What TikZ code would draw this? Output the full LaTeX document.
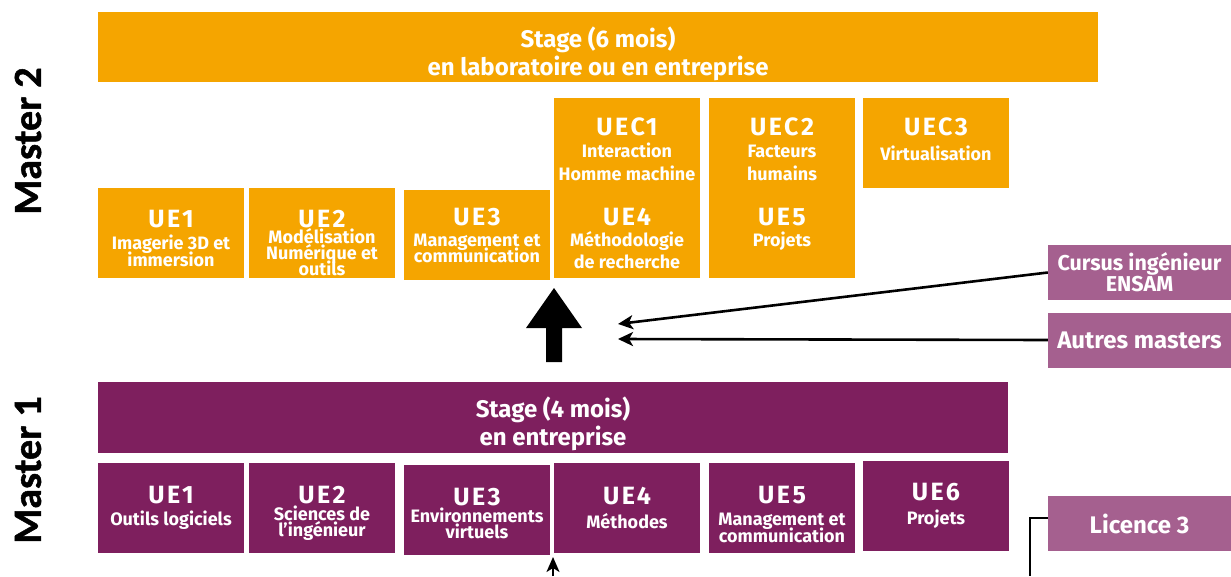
\documentclass[tikz,border=0pt]{standalone}
\usepackage{fontspec}
\setmainfont{Fira Sans}
\newfontfamily\mastfont{Carlito}[FakeBold=1.2]
\usepackage{xcolor}
\usetikzlibrary{positioning,arrows.meta}
\definecolor{orangeM}{HTML}{F5A500}
\definecolor{violetM}{HTML}{7E1F5E}
\definecolor{roseM}{HTML}{A5608F}
\newcommand\uetitle{\fontsize{25}{25}\selectfont\addfontfeatures{LetterSpace=10}}
\newcommand\uetext{\fontsize{18}{17}\selectfont}
\newcommand\stagefont{\fontsize{24}{28}\selectfont}
\newcommand\extfont{\fontsize{24}{21}\selectfont}
% titre d'UE, avec un appui pour descendre le bloc
\newcommand\ttl[2][0pt]{{\uetitle\rule{0pt}{#1}#2}}
\lineskiplimit=-30pt

\begin{document}
\begin{tikzpicture}[x=1pt,y=-1pt,
  box/.style={text=white,inner sep=0pt,align=center,font=\bfseries\uetext},
  ue/.style={box,minimum width=146pt,minimum height=90pt},
  m2/.style={fill=orangeM},
  m1/.style={fill=violetM},
  ext/.style={box,fill=roseM,minimum width=183pt,minimum height=55pt,font=\bfseries\extfont},
  master/.style={rotate=90,font={\mastfont\bfseries\fontsize{40}{40}\selectfont}},
  conn/.style={line width=2.6pt,-{Stealth[length=15pt,width=14pt,inset=4pt]}}]
\useasboundingbox (0,0) rectangle (1231,576);

% Master 2
\node[box,m2,minimum width=1000pt,minimum height=70pt,font=\bfseries\stagefont] (stageB) at (598,47) {\rule{0pt}{34pt}Stage (6 mois)\\en laboratoire ou en entreprise};
\node[ue,m2] (ueBa) at (171,233) {\ttl[27.5pt]{UE1}\\[5pt]Imagerie 3D et\\immersion};
\node[ue,m2] (ueBb) at (322,233) {\ttl[36.5pt]{UE2}\\[-1pt]Modélisation\\[-1pt]Numérique et\\[-1pt]outils};
\node[ue,m2] (ueBc) at (477,235) {\ttl{UE3}\\[4pt]Management et\\[-1pt]communication};
\node[ue,m2,minimum height=180pt] (uecA) at (627,188) {\ttl[28.5pt]{UEC1}\\[5pt]Interaction\\[6pt]Homme machine\\[28pt]\ttl{UE4}\\[4pt]Méthodologie\\[5pt]de recherche};
\node[ue,m2,minimum height=180pt] (uecB) at (782,188) {\ttl[28.5pt]{UEC2}\\[5pt]Facteurs\\[6pt]humains\\[28pt]\ttl{UE5}\\[4pt]Projets\\[5pt]\phantom{de recherche}};
\node[ue,m2] (uecC) at (936,143) {\ttl[26.5pt]{UEC3}\\[8pt]Virtualisation\\\phantom{x}};
\node[master] (mtwo) at (28,141) {Master 2};

% entrees en M2
\node[ext,font=\bfseries\fontsize{21.5}{21}\selectfont] (cursus) at (1139.5,272.5) {Cursus ingénieur\\ENSAM};
\node[ext] (autres) at (1139.5,340) {Autres masters};
\fill (526,328) -- (554,288) -- (582,328) -- (562,328) -- (562,362) -- (546,362) -- (546,328) -- cycle;
\coordinate (tipA) at (618,324);
\coordinate (tipB) at (618,339);
\draw[conn] (cursus.west) -- (tipA);
\draw[conn] (autres.west) -- (tipB);

% Master 1
\node[box,m1,minimum width=910pt,minimum height=71pt,font=\bfseries\stagefont] (stageA) at (553,417.5) {\rule{0pt}{34pt}Stage (4 mois)\\en entreprise};
\node[ue,m1] (ueAa) at (171,507.5) {\ttl{UE1}\\[5pt]Outils logiciels};
\node[ue,m1] (ueAb) at (322,507.5) {\ttl[28.5pt]{UE2}\\[0pt]Sciences de\\[-1pt]l'ingénieur};
\node[ue,m1] (ueAc) at (477,509.5) {\ttl[24.5pt]{UE3}\\[0pt]Environnements\\[-1pt]virtuels};
\node[ue,m1] (ueAd) at (627,507.5) {\ttl{UE4}\\[7pt]Méthodes};
\node[ue,m1] (ueAe) at (782,507.5) {\ttl[31.5pt]{UE5}\\[5pt]Management et\\[0pt]communication};
\node[ue,m1] (ueAf) at (936,505.5) {\ttl{UE6}\\[7pt]Projets};
\node[master] (mone) at (28,470) {Master 1};

% entree en M1
\node[ext] (licence) at (1139.5,523.5) {Licence 3};
\coordinate (bend) at (1030,576);
\coordinate (foot) at (553,576);
\coordinate (entry) at (553,557);
\draw[line width=2pt] ([yshift=5.5pt]licence.west) -| (bend);
\draw[line width=2.2pt,-{Stealth[length=15pt,width=13pt,inset=4pt]}] (foot) -- (entry);
\end{tikzpicture}
\end{document}
